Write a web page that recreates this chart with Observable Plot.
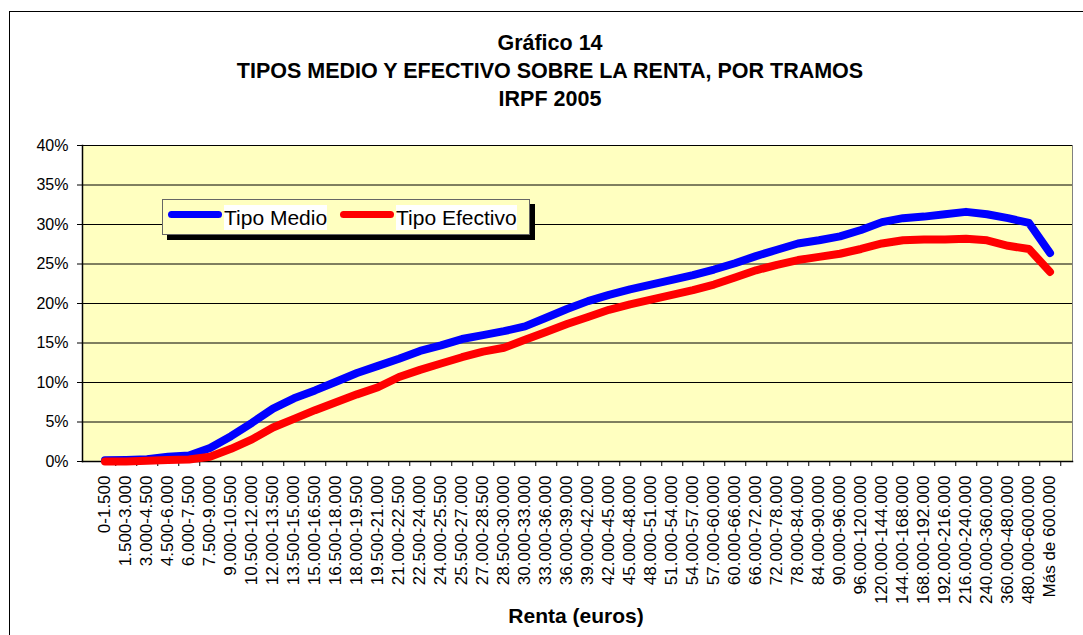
<!DOCTYPE html>
<html><head><meta charset="utf-8">
<script src="https://cdn.jsdelivr.net/npm/d3@7"></script>
<script src="https://cdn.jsdelivr.net/npm/@observablehq/plot@0.6"></script>
<style>
html,body{margin:0;padding:0;background:#fff;overflow:hidden;}
#wrap{position:relative;width:1083px;height:635px;overflow:hidden;font-family:"Liberation Sans",Arial,sans-serif;color:#000;}
#border{position:absolute;left:9px;top:11px;width:1200px;height:800px;border:1px solid #000;box-sizing:border-box;}
#chart{position:absolute;left:0;top:0;}
.title{position:absolute;left:0;width:1100px;text-align:center;font-weight:bold;font-size:21.5px;line-height:28px;top:29px;}
.xtitle{position:absolute;left:0;width:1152px;text-align:center;font-weight:bold;font-size:21px;line-height:28px;top:602px;}
#legend{position:absolute;left:162px;top:199px;width:366px;height:34px;background:#FFFFC0;border:1px solid #666;box-shadow:5px 5px 0 #000;}
#legend .sw{position:absolute;top:11px;width:54px;height:7px;border-radius:4px;}
#legend .lt{position:absolute;top:5px;background:#fff;font-size:21px;line-height:25px;white-space:nowrap;}
</style>
</head><body>
<div id="wrap">
  <div id="border"></div>
  <div id="chart"></div>
  <div class="title">Gráfico 14<br>TIPOS MEDIO Y EFECTIVO SOBRE LA RENTA, POR TRAMOS<br>IRPF 2005</div>
  <div class="xtitle">Renta (euros)</div>
  <div id="legend"></div>
</div>
<script>
const categories = ["0-1.500","1.500-3.000","3.000-4.500","4.500-6.000","6.000-7.500","7.500-9.000","9.000-10.500","10.500-12.000","12.000-13.500","13.500-15.000","15.000-16.500","16.500-18.000","18.000-19.500","19.500-21.000","21.000-22.500","22.500-24.000","24.000-25.500","25.500-27.000","27.000-28.500","28.500-30.000","30.000-33.000","33.000-36.000","36.000-39.000","39.000-42.000","42.000-45.000","45.000-48.000","48.000-51.000","51.000-54.000","54.000-57.000","57.000-60.000","60.000-66.000","66.000-72.000","72.000-78.000","78.000-84.000","84.000-90.000","90.000-96.000","96.000-120.000","120.000-144.000","144.000-168.000","168.000-192.000","192.000-216.000","216.000-240.000","240.000-360.000","360.000-480.000","480.000-600.000","Más de 600.000"];
const tipoMedio = [0.15,0.2,0.3,0.6,0.75,1.7,3.2,4.9,6.7,8.0,9.0,10.1,11.2,12.1,13.0,14.0,14.7,15.5,16.0,16.5,17.1,18.2,19.3,20.3,21.1,21.8,22.4,23.0,23.6,24.3,25.1,26.0,26.8,27.6,28.0,28.5,29.3,30.3,30.8,31.0,31.3,31.6,31.3,30.8,30.2,26.4];
const tipoEfectivo = [0.0,0.0,0.1,0.2,0.25,0.6,1.6,2.8,4.3,5.4,6.5,7.5,8.5,9.4,10.7,11.6,12.4,13.2,13.9,14.4,15.4,16.4,17.4,18.3,19.2,19.9,20.5,21.1,21.7,22.4,23.3,24.2,24.9,25.5,25.9,26.3,26.9,27.6,28.0,28.1,28.1,28.2,28.0,27.3,26.9,24.0];
const seriesNames = ["Tipo Medio","Tipo Efectivo"];
const seriesColors = ["#0000FF","#FF0000"];
const yTicks = [0,0.05,0.10,0.15,0.20,0.25,0.30,0.35,0.40];

const data = [
  ...categories.map((c,i)=>({cat:c, serie:seriesNames[0], v:tipoMedio[i]/100})),
  ...categories.map((c,i)=>({cat:c, serie:seriesNames[1], v:tipoEfectivo[i]/100}))
];

const W = 1083, H = 635, mL = 82, mR = 11, mT = 145, mB = 174;
const bw = (W - mL - mR) / categories.length;

const chart = Plot.plot({
  width: W, height: H,
  marginLeft: mL, marginRight: mR, marginTop: mT, marginBottom: mB,
  style: {fontFamily: '"Liberation Sans", Arial, sans-serif', fontSize: "16px", color: "#000", background: "transparent", overflow: "visible"},
  x: {type: "band", domain: categories, padding: 0, label: null},
  y: {domain: [0, 0.40], label: null},
  color: {domain: seriesNames, range: seriesColors},
  marks: [
    Plot.frame({fill: "#FFFFC0", stroke: "#808080"}),
    Plot.ruleY(yTicks.filter(d => d > 0), {stroke: "#000", strokeWidth: 1}),
    Plot.frame({anchor: "left", stroke: "#000", strokeWidth: 1.5}),
    Plot.frame({anchor: "bottom", stroke: "#000", strokeWidth: 1.5}),
    Plot.axisY({ticks: yTicks, tickFormat: d3.format(".0%"), tickSize: 5, tickPadding: 9, label: null, fontSize: 16}),
    Plot.axisX({tickRotate: -90, tickSize: 0, tickPadding: 14, label: null, fontSize: 17}),
    Plot.axisX({tickSize: 5, tickFormat: () => "", dx: bw / 2, label: null}),
    Plot.line(data, {x: "cat", y: "v", z: "serie", stroke: "serie", strokeWidth: 8, strokeLinejoin: "round", strokeLinecap: "round"})
  ]
});
document.getElementById("chart").appendChild(chart);

const legend = document.getElementById("legend");
const swLeft = [5, 177], txtLeft = [61, 233];
seriesNames.forEach((name, i) => {
  const sw = document.createElement("div");
  sw.className = "sw"; sw.style.left = swLeft[i] + "px"; sw.style.background = seriesColors[i];
  legend.appendChild(sw);
  const t = document.createElement("div");
  t.className = "lt"; t.style.left = txtLeft[i] + "px"; t.textContent = name;
  legend.appendChild(t);
});
</script>
</body></html>
